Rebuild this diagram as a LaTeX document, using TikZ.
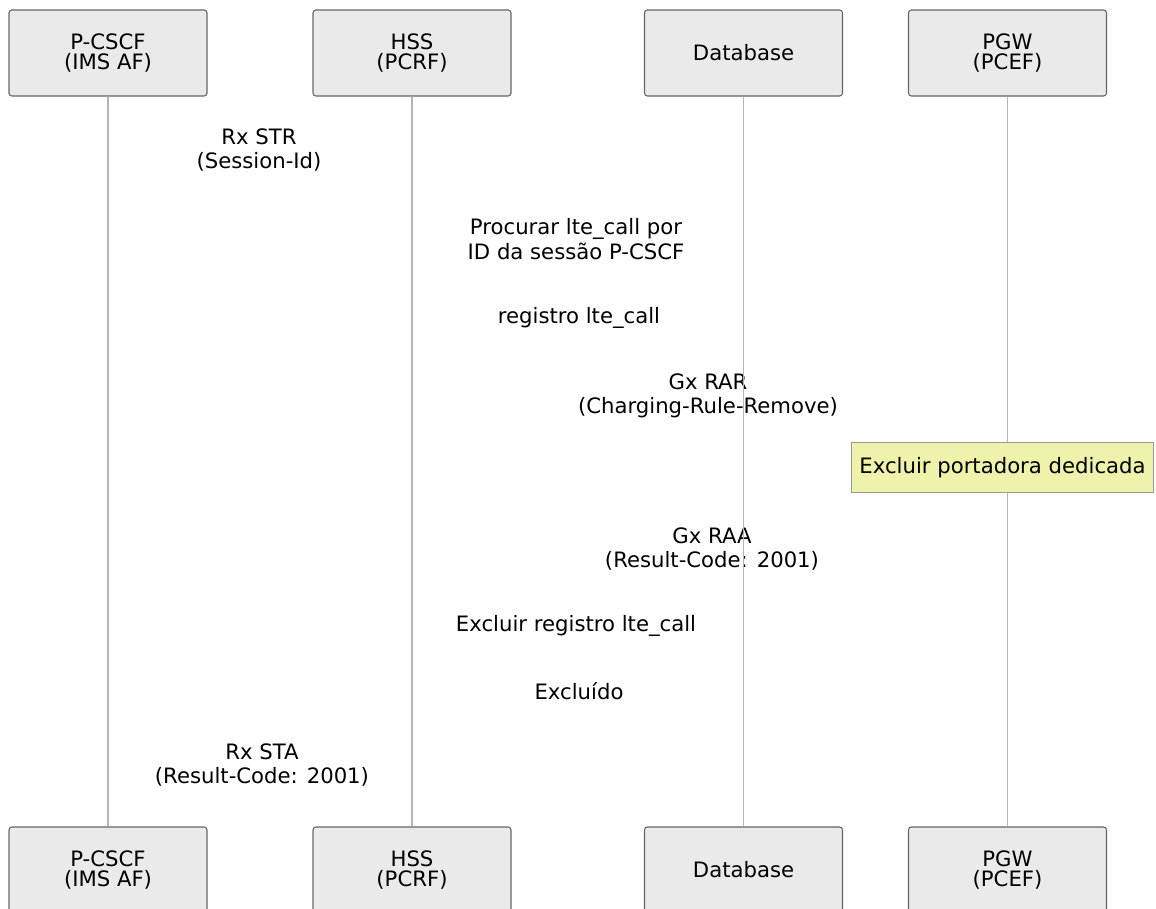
\documentclass[tikz,border=0pt]{standalone}
\usepackage{fontspec}
\setmainfont{DejaVu Sans}
\definecolor{actorfill}{HTML}{EAEAEA}
\definecolor{actorline}{HTML}{666666}
\definecolor{lifeline}{HTML}{B4B4B4}
\definecolor{notefill}{HTML}{EEF2AA}
\definecolor{noteline}{HTML}{999999}
\begin{document}
\begin{tikzpicture}[x=0.75pt,y=-0.75pt,
  actor/.style={draw=actorline,fill=actorfill,rounded corners=2.2pt,line width=0.8pt,
    minimum width=148.5pt,minimum height=64.5pt,align=center,inner sep=0pt,
    font=\fontsize{15.9}{15.2}\selectfont},
  msg/.style={align=center,inner sep=0pt,font=\fontsize{15.9}{18.5}\selectfont},
  life/.style={draw=lifeline,line width=0.8pt},
  notebox/.style={draw=noteline,fill=notefill,line width=0.8pt,minimum width=227pt,
    minimum height=38pt,inner sep=0pt,font=\fontsize{15.9}{18.5}\selectfont}]
\clip (0,0) rectangle (1156,909);
\useasboundingbox (0,0) rectangle (1156,909);

% participants, top row
\node[actor] (pcscfT) at (108,53) {P-CSCF\\(IMS AF)};
\node[actor] (hssT) at (412,53) {HSS\\(PCRF)};
\node[actor] (dbT) at (743.5,53) {Database};
\node[actor] (pgwT) at (1007.5,53) {PGW\\(PCEF)};

% participants, bottom row
\node[actor] (pcscfB) at (108,870) {P-CSCF\\(IMS AF)};
\node[actor] (hssB) at (412,870) {HSS\\(PCRF)};
\node[actor] (dbB) at (743.5,870) {Database};
\node[actor] (pgwB) at (1007.5,870) {PGW\\(PCEF)};

% message labels
\node[msg] (m1) at (259,150) {Rx STR\\(Session-Id)};
\node[msg] (m2) at (576,239) {Procurar lte\_call por\\ID da sessão P-CSCF};
\node[msg] (m3) at (579,318) {registro lte\_call};
\node[msg] (m4) at (708,396) {Gx RAR\\(Charging-Rule-Remove)};
\node[msg] (m5) at (712,549) {Gx RAA\\(Result-Code: 2001)};
\node[msg] (m6) at (576,626) {Excluir registro lte\_call};
\node[msg] (m7) at (579,691) {Excluído};
\node[msg] (m8) at (262,765) {Rx STA\\(Result-Code: 2001)};

% lifelines
\draw[life] (pcscfT.south) -- (pcscfB.north);
\draw[life] (hssT.south) -- (hssB.north);
\draw[life] (dbT.south) -- (dbB.north);
\draw[life] (pgwT.south) -- (pgwB.north);

% note over PGW
\node[notebox] (note) at (1002.5,467.5) {Excluir portadora dedicada};
\end{tikzpicture}
\end{document}
